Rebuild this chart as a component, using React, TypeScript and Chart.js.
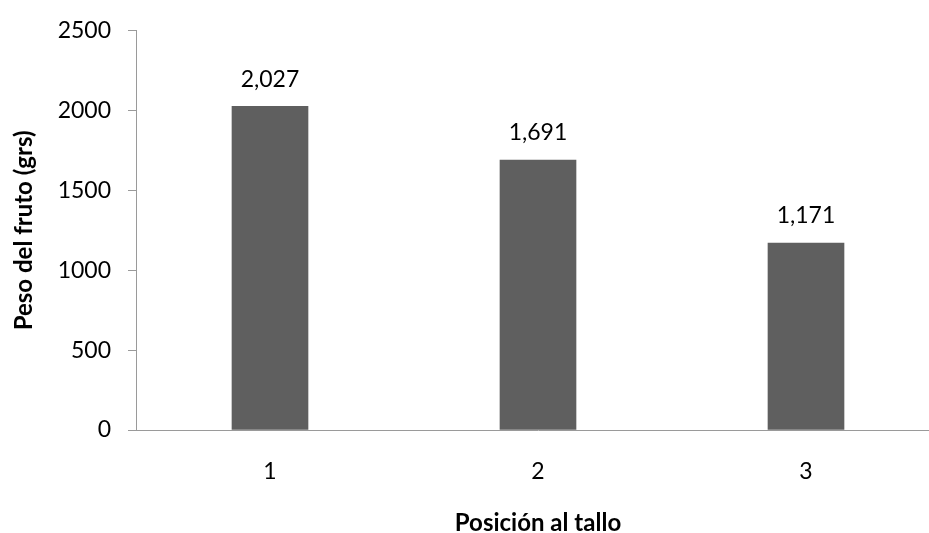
import React, { useEffect, useRef } from "react";
import { Chart, registerables } from "chart.js";

Chart.register(...registerables);

const categories = ["1", "2", "3"];
const pesoFruto = [2027, 1691, 1171];
const yTicks = [0, 500, 1000, 1500, 2000, 2500];

const FONT = "Lato, 'Open Sans', sans-serif";
const AXIS_GRAY = "#9a9a9a";

const formatValue = (v: number) => v.toLocaleString("en-US");

const valueLabels = {
  id: "valueLabels",
  afterDatasetsDraw(chart: any) {
    const { ctx } = chart;
    const meta = chart.getDatasetMeta(0);
    const data = chart.data.datasets[0].data as number[];
    ctx.save();
    ctx.fillStyle = "#000";
    ctx.font = `23px ${FONT}`;
    ctx.textAlign = "center";
    ctx.textBaseline = "middle";
    meta.data.forEach((bar: any, i: number) => {
      ctx.fillText(formatValue(data[i]), bar.x, bar.y - 27);
    });
    ctx.restore();
  },
};

export default function App() {
  const canvasRef = useRef<HTMLCanvasElement | null>(null);

  useEffect(() => {
    if (!canvasRef.current) return;
    const chart = new Chart(canvasRef.current, {
      type: "bar",
      data: {
        labels: categories,
        datasets: [
          {
            data: pesoFruto,
            backgroundColor: "#5f5f5f",
            borderWidth: 0,
            barThickness: 76,
          },
        ],
      },
      options: {
        responsive: false,
        animation: false,
        devicePixelRatio: 1,
        layout: { padding: { left: 0, right: 10, top: 27, bottom: 0 } },
        plugins: {
          legend: { display: false },
          tooltip: { enabled: false },
        },
        scales: {
          x: {
            grid: { display: false, drawTicks: false },
            border: { display: true, color: AXIS_GRAY, width: 1 },
            ticks: {
              color: "#000",
              font: { family: FONT, size: 23 },
              padding: 28,
            },
            title: {
              display: true,
              text: "Posición al tallo",
              color: "#000",
              font: { family: FONT, size: 24, weight: "bold" },
              padding: { top: 0, bottom: -5 },
            },
            afterFit: (scale: any) => {
              scale.height = 103;
            },
          },
          y: {
            min: 0,
            max: 2500,
            afterBuildTicks: (scale: any) => {
              scale.ticks = yTicks.map((v) => ({ value: v }));
            },
            grid: {
              drawOnChartArea: false,
              drawTicks: true,
              tickLength: 8,
              color: AXIS_GRAY,
            },
            border: { display: true, color: AXIS_GRAY, width: 1 },
            ticks: {
              color: "#000",
              font: { family: FONT, size: 23 },
              padding: 17,
              callback: (v: any) => String(v),
            },
            title: {
              display: true,
              text: "Peso del fruto (grs)",
              color: "#000",
              font: { family: FONT, size: 24, weight: "bold" },
              padding: { top: 10, bottom: 0 },
            },
            afterFit: (scale: any) => {
              scale.width = 136;
            },
          },
        },
      },
      plugins: [valueLabels],
    });
    return () => chart.destroy();
  }, []);

  return (
    <div
      style={{
        position: "absolute",
        left: 0,
        top: 0,
        width: 929,
        height: 533,
        overflow: "hidden",
        background: "#fff",
      }}
    >
      <canvas
        ref={canvasRef}
        width={950}
        height={533}
        style={{ display: "block", width: 950, height: 533 }}
      />
    </div>
  );
}
